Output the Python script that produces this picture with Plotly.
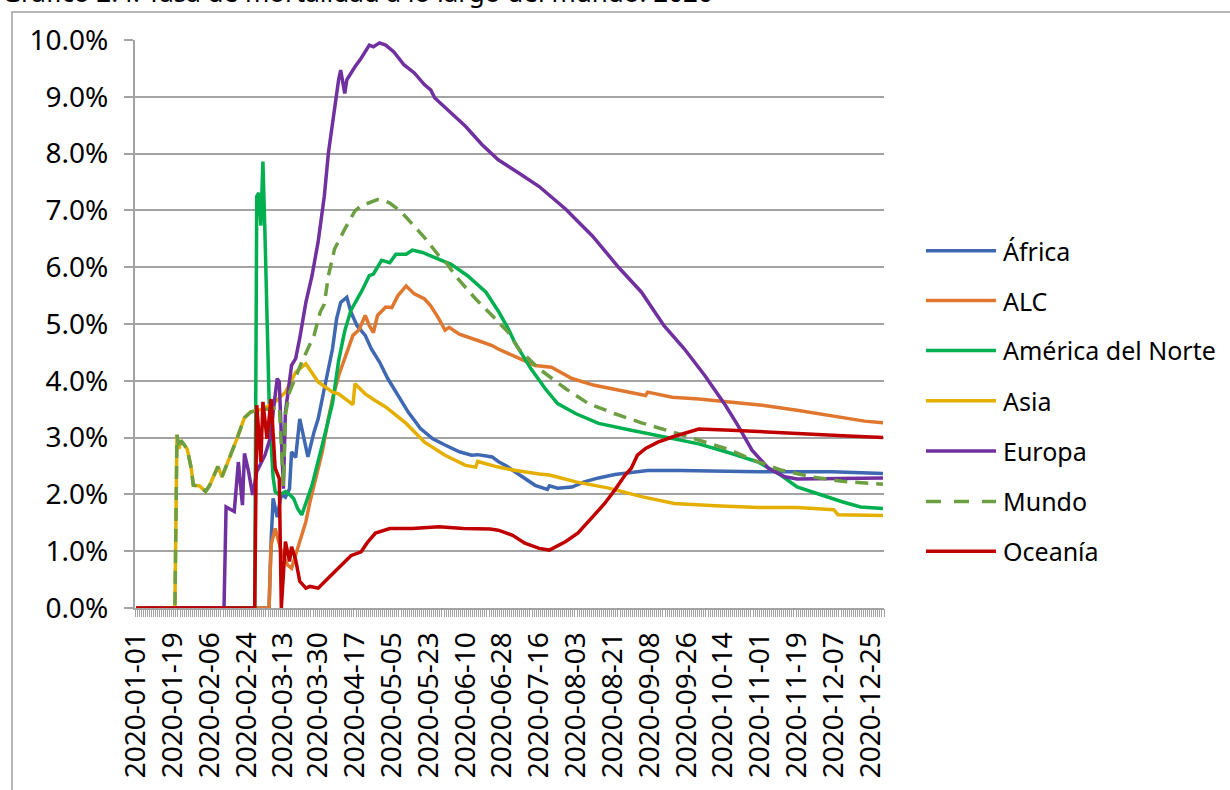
import datetime as dt
import plotly.graph_objects as go

# ---------------- data (percent) ----------------
all_dates = [(dt.date(2020, 1, 1) + dt.timedelta(days=k)).isoformat() for k in range(366)]

tick_labels = ["2020-01-01", "2020-01-19", "2020-02-06", "2020-02-24", "2020-03-13",
               "2020-03-30", "2020-04-17", "2020-05-05", "2020-05-23", "2020-06-10",
               "2020-06-28", "2020-07-16", "2020-08-03", "2020-08-21", "2020-09-08",
               "2020-09-26", "2020-10-14", "2020-11-01", "2020-11-19", "2020-12-07",
               "2020-12-25"]

africa_dates = ["01-01", "03-06", "03-07", "03-08", "03-10", "03-12", "03-14", "03-16", "03-17", "03-19",
                "03-21", "03-24", "03-25", "03-28", "03-30", "04-02", "04-06", "04-08", "04-10", "04-13",
                "04-15", "04-18", "04-22", "04-25", "04-29", "05-03", "05-08", "05-13", "05-19", "05-25",
                "05-31", "06-07", "06-13", "06-16", "06-23", "06-26", "06-30", "07-05", "07-09", "07-14",
                "07-20", "07-21", "07-25", "08-01", "08-07", "08-14", "08-22", "08-30", "09-07", "09-23",
                "10-10", "10-31", "12-06", "12-31"]
africa_vals = [0, 0, 1.17, 1.93, 1.60, 2.00, 1.95, 2.10, 2.75, 2.65,
               3.33, 2.87, 2.66, 3.10, 3.33, 3.86, 4.56, 5.09, 5.38, 5.47,
               5.21, 4.97, 4.80, 4.56, 4.33, 4.04, 3.74, 3.45, 3.16, 2.98,
               2.87, 2.75, 2.69, 2.70, 2.66, 2.58, 2.50, 2.38, 2.28, 2.16,
               2.09, 2.15, 2.11, 2.13, 2.22, 2.29, 2.35, 2.39, 2.42, 2.42,
               2.41, 2.40, 2.40, 2.37]

alc_dates = ["01-01", "03-06", "03-07", "03-09", "03-12", "03-15", "03-17", "03-19", "03-21", "03-24",
             "03-26", "03-28", "04-01", "04-04", "04-06", "04-09", "04-12", "04-16", "04-19", "04-22",
             "04-24", "04-26", "04-28", "05-02", "05-05", "05-08", "05-12", "05-16", "05-21", "05-24",
             "05-28", "05-31", "06-02", "06-07", "06-16", "06-23", "06-26", "07-06", "07-14", "07-22",
             "08-01", "08-12", "08-24", "09-06", "09-07", "09-19", "10-02", "10-18", "11-02", "11-19",
             "12-06", "12-22", "12-31"]
alc_vals = [0, 0, 1.11, 1.40, 1.00, 0.76, 0.70, 0.94, 1.17, 1.52,
            1.87, 2.16, 2.75, 3.33, 3.68, 4.09, 4.40, 4.80, 4.90, 5.15,
            4.97, 4.85, 5.15, 5.30, 5.29, 5.50, 5.67, 5.53, 5.44, 5.32,
            5.09, 4.89, 4.94, 4.82, 4.71, 4.62, 4.56, 4.40, 4.27, 4.24,
            4.04, 3.92, 3.83, 3.74, 3.80, 3.71, 3.68, 3.63, 3.57, 3.48,
            3.39, 3.29, 3.26]

na_dates = ["01-01", "02-28", "02-29", "03-01", "03-02", "03-03", "03-04", "03-05", "03-06", "03-07",
            "03-08", "03-09", "03-11", "03-14", "03-16", "03-18", "03-20", "03-22", "03-24", "03-27",
            "04-01", "04-06", "04-09", "04-12", "04-15", "04-20", "04-24", "04-26", "04-30", "05-04",
            "05-07", "05-12", "05-15", "05-20", "05-26", "06-03", "06-11", "06-20", "06-26", "07-01",
            "07-04", "07-12", "07-19", "07-25", "08-03", "08-14", "08-30", "09-15", "10-02", "10-18",
            "10-31", "11-11", "11-19", "12-01", "12-11", "12-20", "12-31"]
na_vals = [0, 0, 7.25, 7.31, 6.73, 7.86, 6.60, 5.20, 3.70, 2.90,
           2.30, 2.05, 1.99, 2.05, 2.00, 1.93, 1.75, 1.64, 1.85, 2.16,
           2.87, 3.60, 4.35, 4.88, 5.24, 5.56, 5.85, 5.88, 6.12, 6.08,
           6.23, 6.23, 6.30, 6.26, 6.17, 6.05, 5.85, 5.56, 5.23, 4.91,
           4.68, 4.21, 3.86, 3.60, 3.42, 3.25, 3.13, 3.01, 2.89, 2.72,
           2.57, 2.34, 2.13, 1.99, 1.87, 1.78, 1.75]

asia_dates = ["01-01", "01-20", "01-21", "01-22", "01-23", "01-25", "01-26", "01-28", "01-29", "02-01",
              "02-04", "02-06", "02-10", "02-12", "02-15", "02-19", "02-23", "02-26", "02-28", "03-03",
              "03-09", "03-14", "03-19", "03-24", "03-30", "04-06", "04-09", "04-15", "04-16", "04-17",
              "04-22", "04-27", "05-02", "05-12", "05-21", "05-31", "06-10", "06-15", "06-16", "06-25",
              "07-03", "07-16", "07-21", "08-03", "08-19", "09-04", "09-20", "10-10", "10-31", "11-19",
              "12-07", "12-09", "12-31"]
asia_vals = [0, 0, 3.05, 2.80, 2.95, 2.84, 2.80, 2.46, 2.16, 2.15,
             2.05, 2.16, 2.49, 2.31, 2.57, 2.95, 3.35, 3.45, 3.47, 3.50,
             3.63, 3.80, 4.15, 4.30, 3.98, 3.80, 3.77, 3.60, 3.58, 3.95,
             3.77, 3.65, 3.54, 3.25, 2.92, 2.69, 2.51, 2.48, 2.58, 2.49,
             2.43, 2.36, 2.34, 2.22, 2.11, 1.96, 1.84, 1.80, 1.77, 1.77,
             1.73, 1.64, 1.63]

europa_dates = ["01-01", "02-13", "02-14", "02-16", "02-18", "02-20", "02-22", "02-23", "02-25", "02-27",
                "02-29", "03-04", "03-07", "03-08", "03-10", "03-11", "03-12", "03-13", "03-14", "03-16",
                "03-17", "03-19", "03-21", "03-24", "03-27", "03-30", "04-02", "04-04", "04-07", "04-09",
                "04-10", "04-12", "04-13", "04-15", "04-17", "04-20", "04-24", "04-26", "04-29", "05-02",
                "05-06", "05-11", "05-16", "05-21", "05-24", "05-26", "06-02", "06-10", "06-18", "06-26",
                "07-06", "07-16", "07-29", "08-11", "08-24", "09-04", "09-15", "09-25", "10-05", "10-15",
                "10-21", "10-28", "11-05", "11-13", "11-19", "12-06", "12-31"]
europa_vals = [0, 0, 1.78, 1.74, 1.70, 2.57, 1.81, 2.72, 2.40, 1.99,
               2.40, 2.69, 3.04, 3.45, 4.04, 3.98, 3.00, 2.10, 3.45, 4.04,
               4.27, 4.39, 4.75, 5.38, 5.85, 6.45, 7.25, 8.01, 8.83, 9.30,
               9.47, 9.06, 9.30, 9.42, 9.53, 9.68, 9.91, 9.88, 9.95, 9.91,
               9.79, 9.56, 9.42, 9.21, 9.12, 8.98, 8.74, 8.48, 8.16, 7.89,
               7.66, 7.42, 7.02, 6.55, 5.99, 5.56, 4.97, 4.56, 4.09, 3.57,
               3.22, 2.78, 2.46, 2.31, 2.27, 2.28, 2.29]

mundo_dates = ["01-01", "01-20", "01-21", "01-22", "01-23", "01-25", "01-26", "01-28", "01-29", "02-01",
               "02-04", "02-06", "02-10", "02-12", "02-15", "02-19", "02-23", "02-26", "02-28", "03-03",
               "03-07", "03-11", "03-12", "03-13", "03-14", "03-16", "03-22", "03-28", "03-31", "04-02",
               "04-04", "04-07", "04-12", "04-17", "04-20", "04-28", "05-02", "05-04", "05-08", "05-12",
               "05-18", "05-21", "05-28", "06-01", "06-05", "06-15", "06-23", "06-26", "07-01", "07-06",
               "07-16", "07-29", "08-09", "08-22", "09-04", "09-19", "10-02", "10-16", "10-29", "11-11",
               "11-26", "12-11", "12-31"]
mundo_vals = [0, 0, 3.05, 2.80, 2.95, 2.84, 2.80, 2.46, 2.16, 2.15,
              2.05, 2.16, 2.49, 2.31, 2.57, 2.95, 3.35, 3.45, 3.47, 3.50,
              3.50, 3.55, 2.87, 2.15, 3.40, 3.80, 4.33, 4.80, 5.21, 5.35,
              5.85, 6.32, 6.67, 6.99, 7.08, 7.19, 7.16, 7.13, 7.02, 6.88,
              6.64, 6.52, 6.20, 6.06, 5.85, 5.44, 5.15, 5.03, 4.85, 4.56,
              4.21, 3.86, 3.60, 3.42, 3.26, 3.10, 2.95, 2.80, 2.60, 2.43,
              2.31, 2.23, 2.18]

oceania_dates = ["01-01", "02-28", "02-29", "03-02", "03-03", "03-05", "03-07", "03-09", "03-11", "03-12",
                 "03-14", "03-16", "03-17", "03-19", "03-21", "03-24", "03-26", "03-30", "04-04", "04-09",
                 "04-15", "04-20", "04-23", "04-27", "05-04", "05-15", "05-28", "06-09", "06-22", "06-26",
                 "07-03", "07-09", "07-16", "07-21", "07-29", "08-04", "08-09", "08-12", "08-17", "08-22",
                 "08-27", "08-30", "09-02", "09-06", "09-12", "09-19", "09-27", "10-02", "10-18", "10-31",
                 "11-19", "12-14", "12-31"]
oceania_vals = [0, 0, 3.57, 2.57, 3.63, 2.98, 3.68, 2.46, 2.28, 0.00,
                1.17, 0.82, 1.08, 0.85, 0.47, 0.35, 0.38, 0.35, 0.53, 0.70,
                0.92, 0.99, 1.15, 1.32, 1.40, 1.40, 1.43, 1.40, 1.39, 1.37,
                1.28, 1.14, 1.05, 1.02, 1.17, 1.32, 1.52, 1.64, 1.84, 2.08,
                2.34, 2.46, 2.69, 2.81, 2.92, 3.01, 3.10, 3.15, 3.13, 3.11,
                3.07, 3.03, 3.00]

series_names = ["África", "ALC", "América del Norte", "Asia", "Europa", "Mundo", "Oceanía"]
series_dates = [africa_dates, alc_dates, na_dates, asia_dates, europa_dates, mundo_dates, oceania_dates]
series_vals = [africa_vals, alc_vals, na_vals, asia_vals, europa_vals, mundo_vals, oceania_vals]

# ---------------- styles ----------------
colors = ["#3F68B3", "#E0772F", "#00B050", "#E5AF00", "#7030A0", "#6C9E42", "#C00000"]
dashes = ["solid", "solid", "solid", "solid", "solid", "13px,8px", "solid"]

W, H = 1230, 790
L, R, T, B = 135, 884, 40, 610
FONT = "Noto Sans"
GRID = "#A3A3A3"
TICK_SIZE = 28


def px_x(p):
    return (p - L) / (R - L)


def px_y(p):
    return (B - p) / (B - T)


fig = go.Figure()
for name, ds, vs, c, d in zip(series_names, series_dates, series_vals, colors, dashes):
    fig.add_trace(go.Scatter(
        x=["2020-" + s for s in ds], y=vs, name=name, mode="lines",
        line=dict(color=c, width=3.5, dash=d), showlegend=False,
        xaxis="x", yaxis="y"))

# helper trace for dense category tick marks
fig.add_trace(go.Scatter(x=all_dates, y=[None] * len(all_dates), xaxis="x2", yaxis="y",
                         mode="lines", showlegend=False, hoverinfo="skip"))

fig.update_layout(
    width=W, height=H,
    margin=dict(l=L, r=W - R, t=T, b=H - B),
    paper_bgcolor="white", plot_bgcolor="white",
    font=dict(family=FONT, color="#000000", size=26),
    xaxis=dict(type="category", categoryorder="array", categoryarray=all_dates,
               range=[-0.5, len(all_dates) - 0.5],
               tickmode="array", tickvals=tick_labels, ticktext=tick_labels,
               tickangle=-90, ticks="", showgrid=False,
               showline=True, linecolor=GRID, linewidth=2,
               tickfont=dict(size=TICK_SIZE, family=FONT, color="#000000"),
               ticklabelstandoff=11),
    xaxis2=dict(type="category", categoryorder="array", categoryarray=all_dates,
                range=[-0.5, len(all_dates) - 0.5], overlaying="x", anchor="y", side="bottom",
                tickmode="linear", tick0=0, dtick=1, tickson="boundaries",
                showticklabels=False, ticks="outside", ticklen=8, tickwidth=1, tickcolor=GRID,
                showgrid=False, showline=False),
    yaxis=dict(range=[0, 10], dtick=1, tick0=0, tickformat=".1f", ticksuffix="%",
               showgrid=True, gridcolor=GRID, gridwidth=2, zeroline=False,
               showline=True, linecolor=GRID, linewidth=2,
               ticks="outside", ticklen=9, tickwidth=2, tickcolor=GRID,
               tickfont=dict(size=TICK_SIZE, family=FONT, color="#000000"),
               ticklabelstandoff=10),
)

# chart area border (Excel-like frame, partly outside the page)
fig.add_shape(type="rect", xref="paper", yref="paper",
              x0=px_x(12), x1=px_x(W + 20), y0=px_y(H + 20), y1=px_y(12),
              line=dict(color="#A0A0A0", width=1.5), fillcolor="rgba(0,0,0,0)", layer="below")

# title (cut at the top of the page as in the source)
fig.add_annotation(text="Gráfico 2.4: Tasa de mortalidad a lo largo del mundo: 2020",
                   xref="paper", yref="paper", x=px_x(0), y=px_y(12),
                   xanchor="left", yanchor="bottom", showarrow=False,
                   font=dict(size=26, family=FONT, color="#000000"))

# legend drawn manually (long line samples as in source)
leg_y = [251.5, 301.5, 351.5, 402, 452.5, 503, 553]
for name, c, d, yy in zip(series_names, colors, dashes, leg_y):
    fig.add_shape(type="line", xref="paper", yref="paper",
                  x0=px_x(926), x1=px_x(996), y0=px_y(yy), y1=px_y(yy),
                  line=dict(color=c, width=3.5, dash=("15px,13px" if d != "solid" else "solid")))
    fig.add_annotation(text=name, xref="paper", yref="paper", x=px_x(1001), y=px_y(yy),
                       xanchor="left", yanchor="middle", showarrow=False,
                       font=dict(size=25, family=FONT, color="#000000"))

fig.write_html("out.html")
